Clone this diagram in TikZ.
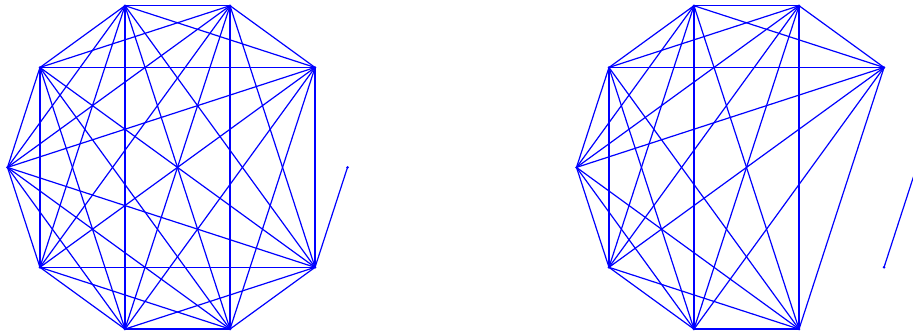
\documentclass[tikz,border=0pt]{standalone}
\begin{document}
\begin{tikzpicture}[x=1pt,y=1pt,
  vtx/.style={circle,fill=blue,inner sep=0pt,minimum size=2.8pt},
  edge/.style={draw=blue,line width=1.2pt}]
\useasboundingbox (0,0) rectangle (913,335);
\clip (0,0) rectangle (913,335);
% vertices of the two decagons
\foreach \i in {0,...,9} {
  \node[vtx] (a\i) at ({177.5+170*cos(36*\i)},{167.6+170*sin(36*\i)}) {};
  \node[vtx] (b\i) at ({746.5+170*cos(36*\i)},{167.6+170*sin(36*\i)}) {};
}
% left: complete graph on a1..a9, plus a9--a0
\foreach \i in {1,...,8} {
  \pgfmathtruncatemacro\kk{\i+1}
  \foreach \j in {\kk,...,9} {
    \draw[edge] (a\i.center) -- (a\j.center);
  }
}
\draw[edge] (a9.center) -- (a0.center);
% right: complete graph on b1..b8, plus b9--b0
\foreach \i in {1,...,7} {
  \pgfmathtruncatemacro\kk{\i+1}
  \foreach \j in {\kk,...,8} {
    \draw[edge] (b\i.center) -- (b\j.center);
  }
}
\draw[edge] (b9.center) -- (b0.center);
\end{tikzpicture}
\end{document}
